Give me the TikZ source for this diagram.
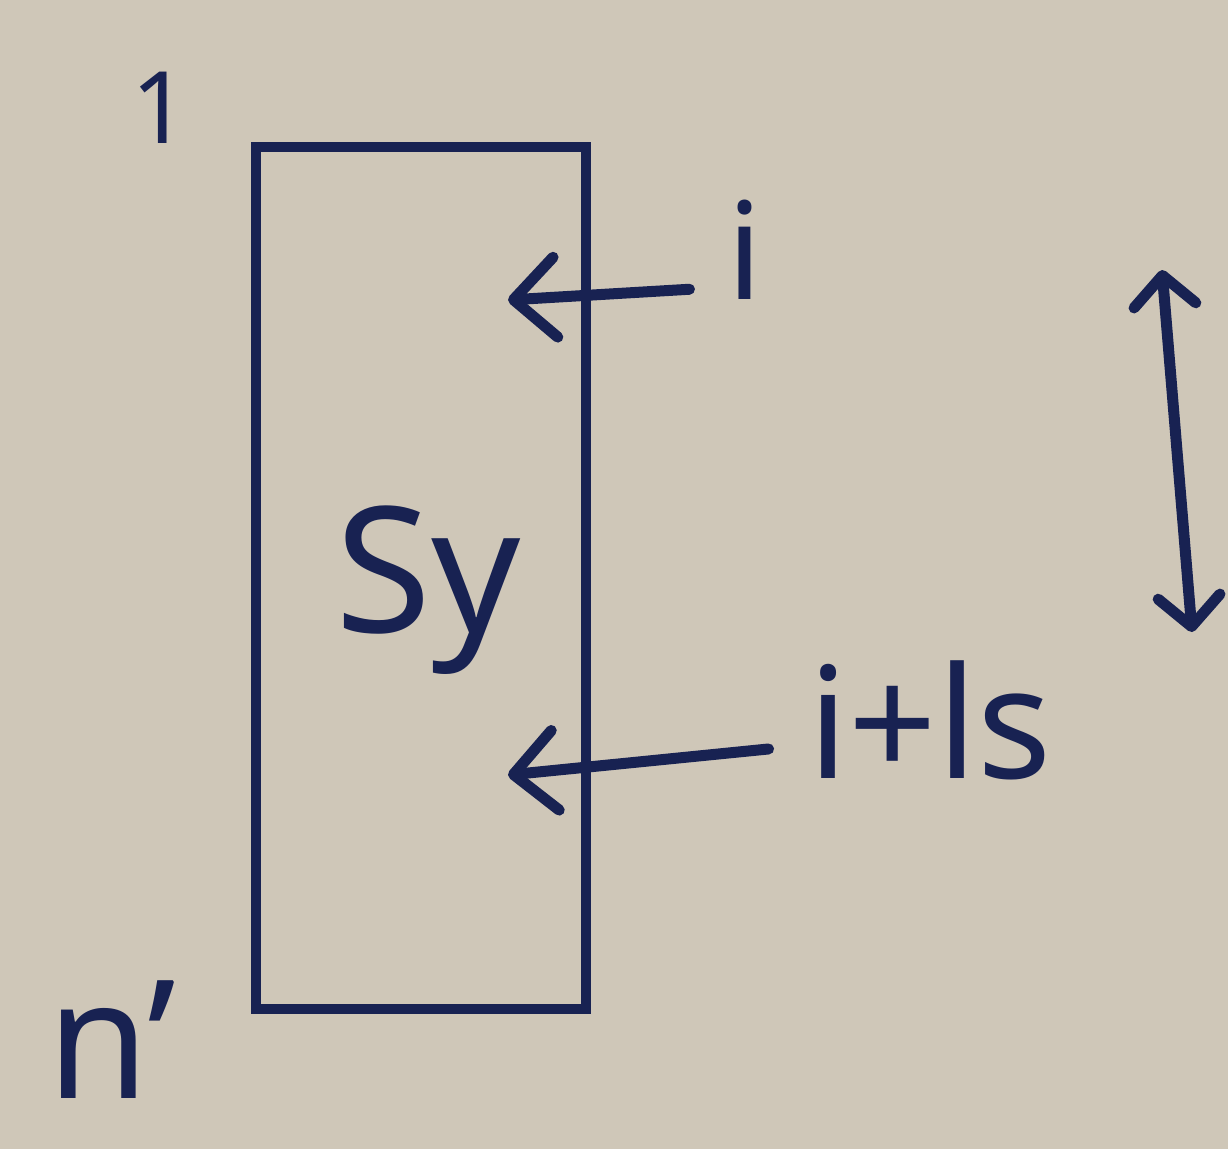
\documentclass[tikz,border=0pt]{standalone}
\usepackage{fontspec}
\setmainfont{Noto Sans}
\usetikzlibrary{arrows.meta}
\definecolor{paper}{RGB}{207,199,184}
\definecolor{ink}{RGB}{24,34,82}
\begin{document}
\begin{tikzpicture}[x=1pt,y=-1pt,
  inkline/.style={draw=ink,line width=11pt,line cap=round,line join=round},
  barb/.style={-{Straight Barb[length=42pt,width=80pt,line cap=round,line join=round]}},
  dbarb/.style={{Straight Barb[length=30pt,width=62pt,line cap=round,line join=round]}-{Straight Barb[length=30pt,width=62pt,line cap=round,line join=round]}},
  lbl/.style={text=ink,inner sep=0pt,anchor=center}]
\fill[paper] (0,0) rectangle (1228,1149);
\useasboundingbox (0,0) rectangle (1228,1149);
% box
\node[draw=ink,line width=10pt,minimum width=330pt,minimum height=862pt,inner sep=0pt] (box) at (421,578) {};
\node[lbl,font=\fontsize{175}{175}\selectfont] (sy) at (428,590) {Sy};
% labels
\node[lbl,font=\fontsize{100}{100}\selectfont] (one) at (160,108) {1};
\node[lbl,font=\fontsize{135}{135}\selectfont] (ilbl) at (745,250) {i};
\node[lbl,font=\fontsize{155}{155}\selectfont] (ils) at (930,720) {i+ls};
\node[lbl,font=\fontsize{165}{165}\selectfont] (nprime) at (112,1040) {n'};
% arrow targets
\coordinate (itip) at (508,300);
\coordinate (ilstip) at (508,775);
\coordinate (vtop) at (1162,270);
\coordinate (vbot) at (1192,632);
% arrows
\draw[inkline,barb,shorten <=38pt] (ilbl.west |- 0,287) -- (itip);
\draw[inkline,barb,shorten <=40pt] (ils.west |- 0,745) -- (ilstip);
\draw[inkline,dbarb] (vtop) -- (vbot);
\end{tikzpicture}
\end{document}
